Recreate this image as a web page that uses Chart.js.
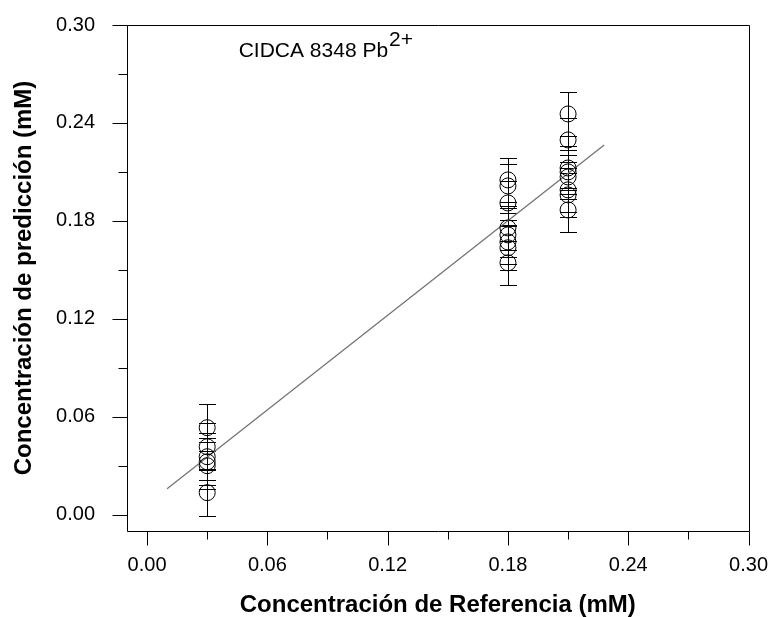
<!DOCTYPE html>
<html>
<head>
<meta charset="utf-8">
<script src="https://cdn.jsdelivr.net/npm/chart.js@4/dist/chart.umd.min.js"></script>
<style>
  html, body { margin: 0; padding: 0; background: #fff; }
  #plot { display: block; }
</style>
</head>
<body>
<canvas id="plot" width="768" height="617"></canvas>
<script>
// reference concentrations (x) and predicted values
const refLevels = [0.03, 0.18, 0.21];
const pred003 = [0.0533, 0.0416, 0.0355, 0.0324, 0.0300, 0.0135];
const pred018 = [0.2051, 0.2014, 0.1910, 0.1757, 0.1714, 0.1671, 0.1635, 0.1543];
const pred021 = [0.2455, 0.2296, 0.2124, 0.2100, 0.2069, 0.1990, 0.1959, 0.1867];
const errBar = [0.0145, 0.0135, 0.0135];

// fitted line end points
const fitX = [0.01, 0.228];
const fitY = [0.0159, 0.2265];

const majorTicks = [0, 0.06, 0.12, 0.18, 0.24, 0.30];
const minorTicks = [0.03, 0.09, 0.15, 0.21, 0.27];

const FONT = "'Liberation Sans', Arial, sans-serif";

function pointsFor(x, ys) {
    return ys.map((y) => ({ x: x, y: y }));
}

function markerSet(x, ys, err) {
    return {
        data: pointsFor(x, ys),
        errorBar: err,
        pointRadius: 8,
        pointHoverRadius: 8,
        pointBorderColor: '#000',
        pointBackgroundColor: 'rgba(0,0,0,0)',
        pointBorderWidth: 1,
        showLine: false
    };
}

// vertical error bars with caps
const errorBars = {
    id: 'errorBars',
    beforeDatasetsDraw(chart) {
        const ctx = chart.ctx;
        const xs = chart.scales.x, ys = chart.scales.y;
        ctx.save();
        ctx.strokeStyle = '#000';
        ctx.lineWidth = 1;
        chart.data.datasets.forEach((ds) => {
            if (!ds.errorBar) return;
            ds.data.forEach((p) => {
                const px = Math.round(xs.getPixelForValue(p.x)) + 0.5;
                const top = Math.round(ys.getPixelForValue(p.y + ds.errorBar)) + 0.5;
                const bot = Math.round(ys.getPixelForValue(p.y - ds.errorBar)) + 0.5;
                ctx.beginPath();
                ctx.moveTo(px, top); ctx.lineTo(px, bot);
                ctx.moveTo(px - 8.5, top); ctx.lineTo(px + 8.5, top);
                ctx.moveTo(px - 8.5, bot); ctx.lineTo(px + 8.5, bot);
                ctx.stroke();
            });
        });
        ctx.restore();
    }
};

// box frame, outward ticks and the annotation
const frame = {
    id: 'frame',
    afterDraw(chart) {
        const ctx = chart.ctx;
        const a = chart.chartArea;
        const xs = chart.scales.x, ys = chart.scales.y;
        const L = Math.round(a.left) + 0.5, R = Math.round(a.right) + 0.5;
        const T = Math.round(a.top) + 0.5, B = Math.round(a.bottom) + 0.5;
        ctx.save();
        ctx.strokeStyle = '#000';
        ctx.lineWidth = 1;
        ctx.beginPath();
        ctx.rect(L, T, R - L, B - T);
        majorTicks.forEach((v) => {
            const py = Math.round(ys.getPixelForValue(v)) + 0.5;
            ctx.moveTo(L - 15, py); ctx.lineTo(L, py);
            const px = Math.round(xs.getPixelForValue(v)) + 0.5;
            ctx.moveTo(px, B); ctx.lineTo(px, B + 14);
        });
        minorTicks.forEach((v) => {
            const py = Math.round(ys.getPixelForValue(v)) + 0.5;
            ctx.moveTo(L - 9, py); ctx.lineTo(L, py);
            const px = Math.round(xs.getPixelForValue(v)) + 0.5;
            ctx.moveTo(px, B); ctx.lineTo(px, B + 8);
        });
        ctx.stroke();

        // label inside the plot
        const tx = xs.getPixelForValue(0.0457);
        const ty = ys.getPixelForValue(0.2804);
        ctx.fillStyle = '#000';
        ctx.font = '21px ' + FONT;
        ctx.textBaseline = 'alphabetic';
        ctx.textAlign = 'left';
        const main = 'CIDCA 8348 Pb';
        ctx.fillText(main, tx, ty);
        const w = ctx.measureText(main).width;
        ctx.fillText('2+', tx + w + 1, ty - 11);
        ctx.restore();
    }
};

const tickFont = { family: FONT, size: 20 };
const titleFont = { family: FONT, size: 24, weight: 'bold', lineHeight: 1 };
// invisible tick marks only used to push the labels away from the frame
const hiddenGrid = (len) => ({
    display: true,
    drawOnChartArea: false,
    drawTicks: true,
    tickLength: len,
    color: 'rgba(0,0,0,0)'
});

new Chart(document.getElementById('plot'), {
    type: 'scatter',
    data: {
        datasets: [
            markerSet(refLevels[0], pred003, errBar[0]),
            markerSet(refLevels[1], pred018, errBar[1]),
            markerSet(refLevels[2], pred021, errBar[2]),
            {
                data: fitX.map((x, i) => ({ x: x, y: fitY[i] })),
                showLine: true,
                borderColor: '#707070',
                borderWidth: 1.2,
                pointRadius: 0,
                fill: false
            }
        ]
    },
    options: {
        responsive: false,
        animation: false,
        layout: { padding: { top: 25, right: 19, left: 0, bottom: 0 } },
        plugins: {
            legend: { display: false },
            tooltip: { enabled: false }
        },
        scales: {
            x: {
                type: 'linear',
                position: 'bottom',
                min: -0.01,
                max: 0.30,
                grid: hiddenGrid(22),
                border: { display: false },
                afterBuildTicks: (s) => { s.ticks = majorTicks.map((v) => ({ value: v })); },
                afterFit: (s) => { s.height = 86; },
                ticks: {
                    callback: (v) => Number(v).toFixed(2),
                    font: tickFont,
                    color: '#000',
                    padding: 0,
                    maxRotation: 0,
                    autoSkip: false
                },
                title: {
                    display: true,
                    text: 'Concentración de Referencia (mM)',
                    font: titleFont,
                    color: '#000',
                    padding: { top: 0, bottom: 0 }
                }
            },
            y: {
                type: 'linear',
                min: -0.01,
                max: 0.30,
                grid: hiddenGrid(32),
                border: { display: false },
                afterBuildTicks: (s) => { s.ticks = majorTicks.map((v) => ({ value: v })); },
                afterFit: (s) => { s.width = 127; },
                ticks: {
                    callback: (v) => Number(v).toFixed(2),
                    font: tickFont,
                    color: '#000',
                    padding: 0,
                    autoSkip: false
                },
                title: {
                    display: true,
                    text: 'Concentración de predicción (mM)',
                    font: titleFont,
                    color: '#000',
                    padding: { top: 12, bottom: 0 }
                }
            }
        }
    },
    plugins: [errorBars, frame]
});
</script>
</body>
</html>
